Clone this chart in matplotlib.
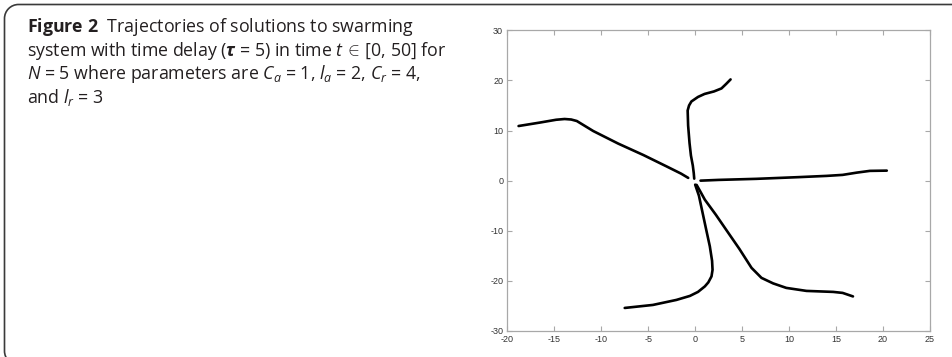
import matplotlib
matplotlib.use("Agg")
import matplotlib.pyplot as plt
from matplotlib.path import Path
from matplotlib.patches import PathPatch
from matplotlib.transforms import IdentityTransform

plt.rcParams['mathtext.fontset'] = 'custom'
plt.rcParams['mathtext.rm'] = 'Open Sans'
plt.rcParams['mathtext.it'] = 'Open Sans:italic'
plt.rcParams['mathtext.bf'] = 'Open Sans:bold'
try:
    plt.rcParams['mathtext.bfit'] = 'Open Sans:bold:italic'
except KeyError:
    pass

# ---- data ----
traj1_x = [-18.8, -16.5, -14.8, -13.9, -13.2, -12.6, -10.85, -8.2, -5.5, -3.0, -1.5, -0.74]
traj1_y = [10.9, 11.6, 12.15, 12.3, 12.2, 11.9, 9.9, 7.4, 5.1, 2.8, 1.4, 0.55]

traj2_x = [3.77, 3.3, 2.8, 2.0, 1.0, 0.3, -0.4, -0.65, -0.8, -0.75, -0.6, -0.45, -0.25, -0.15, -0.1]
traj2_y = [20.2, 19.3, 18.4, 17.8, 17.3, 16.7, 15.8, 15.0, 14.0, 11.0, 7.5, 5.0, 3.0, 1.5, 0.4]

traj3_x = [0.57, 2.5, 6.5, 11.0, 14.0, 15.7, 17.2, 18.6, 20.4]
traj3_y = [0.0, 0.15, 0.36, 0.7, 0.95, 1.15, 1.6, 1.95, 2.0]

traj4_x = [0.0, 0.4, 0.8, 1.2, 1.56, 1.8, 1.85, 1.74, 1.4, 1.03, 0.3, -0.56, -2.0, -4.5, -7.5]
traj4_y = [-0.8, -3.0, -6.5, -10.0, -13.1, -16.0, -17.8, -19.1, -20.3, -21.1, -22.2, -23.0, -23.8, -24.8, -25.4]

traj5_x = [0.15, 0.5, 1.03, 2.2, 3.3, 4.7, 6.0, 7.06, 8.3, 9.7, 11.85, 14.7, 15.7, 16.8]
traj5_y = [-0.84, -2.0, -3.8, -6.8, -9.8, -13.6, -17.4, -19.4, -20.5, -21.4, -22.0, -22.2, -22.4, -23.1]

x_ticks = [-20, -15, -10, -5, 0, 5, 10, 15, 20, 25]
y_ticks = [-30, -20, -10, 0, 10, 20, 30]

caption_lines = [
    r"$\mathbf{Figure\ 2}$  Trajectories of solutions to swarming",
    r"system with time delay ($\boldsymbol{\tau}$ = 5) in time $t\,\in\,$[0, 50] for",
    r"$N$ = 5 where parameters are $C_a$ = 1, $l_a$ = 2, $C_r$ = 4,",
    r"and $l_r$ = 3",
]

W, H = 953, 357
fig = plt.figure(figsize=(W / 100, H / 100), dpi=100)

# rounded frame in pixel coordinates (y up); only left/top edges inside the image
r = 14.0
xl, yt, yb, xr = 4.5, H - 4.5, -8.0, W + 30
k = 0.5523 * r
verts = [
    (xr, yt), (xl + r, yt),
    (xl + r - k, yt), (xl, yt - r + k), (xl, yt - r),
    (xl, yb + r),
    (xl, yb + r - k), (xl + r - k, yb), (xl + r, yb),
    (xr, yb),
]
codes = [Path.MOVETO, Path.LINETO,
         Path.CURVE4, Path.CURVE4, Path.CURVE4,
         Path.LINETO,
         Path.CURVE4, Path.CURVE4, Path.CURVE4,
         Path.LINETO]
frame = PathPatch(Path(verts, codes), transform=IdentityTransform(), fill=False,
                  edgecolor='#3a3a3a', linewidth=1.2)
fig.patches.append(frame)

# caption
y0 = H - 27
for i, line in enumerate(caption_lines):
    fig.text(27 / W, (y0 - i * 23.6) / H, line, fontsize=12.8,
             family='Open Sans',
             color='#231f20', va='center', ha='left')

ax = fig.add_axes([507.3 / W, 26 / H, 422.7 / W, 300.7 / H])
lw = 1.9
for xs, ys in [(traj1_x, traj1_y), (traj2_x, traj2_y), (traj3_x, traj3_y),
               (traj4_x, traj4_y), (traj5_x, traj5_y)]:
    ax.plot(xs, ys, color='black', lw=lw, solid_capstyle='round', solid_joinstyle='round')

ax.set_xlim(-20, 25)
ax.set_ylim(-30, 30)
ax.set_xticks(x_ticks)
ax.set_yticks(y_ticks)
ax.set_xticklabels([str(v) for v in x_ticks])
ax.set_yticklabels([str(v) for v in y_ticks])
for s in ax.spines.values():
    s.set_color('#a8a8a8')
    s.set_linewidth(0.9)
ax.tick_params(direction='in', length=3.5, width=0.8, color='#a8a8a8',
               labelsize=6.5, labelcolor='#333333', pad=3,
               top=True, right=True)
for lab in ax.get_xticklabels() + ax.get_yticklabels():
    lab.set_family('Liberation Sans')

fig.savefig("out.png", dpi=100)
